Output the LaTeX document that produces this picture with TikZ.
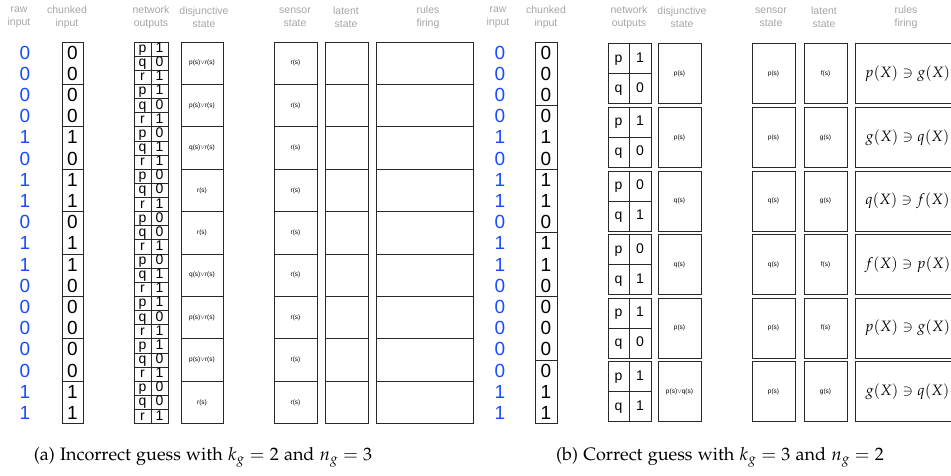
\documentclass[tikz,border=0pt]{standalone}
\usepackage{mathpazo}
\usepackage[no-math]{fontspec}
\setsansfont{Liberation Sans}
\usetikzlibrary{positioning}
\definecolor{InputBlue}{RGB}{25, 75, 255}
\definecolor{HeadGray}{RGB}{165, 165, 165}
\definecolor{BoxLine}{RGB}{40, 40, 40}
\newcommand{\palfont}{\fontencoding{OT1}\fontfamily{pplx}\selectfont}

\begin{document}
\begin{tikzpicture}[x=1pt, y=-1pt,
    cell/.style={draw=BoxLine, line width=0.8pt, inner sep=0pt},
    bit/.style={font=\sffamily\fontsize{19}{19}\selectfont, inner sep=0pt},
    rawbit/.style={bit, text=InputBlue},
    letter/.style={font=\sffamily\fontsize{14}{14}\selectfont, text height=10pt, text depth=3pt},
    tiny/.style={font=\sffamily\fontsize{6.5}{7}\selectfont},
    head/.style={font=\sffamily\fontsize{10.5}{13}\selectfont, text=HeadGray, align=center, inner sep=0pt},
    capt/.style={font=\palfont\fontsize{18}{21}\selectfont, inner sep=0pt}]
    \useasboundingbox (0,0) rectangle (951,476);
    \clip (0,0) rectangle (951,476);

    % Column titles
    \foreach \x/\txt/\p in {19/raw\\input/a, 67/chunked\\input/a, 151/network\\outputs/a,
                            204/disjunctive\\state/a, 295/sensor\\state/a, 346/latent\\state/a,
                            428/rules\\firing/a,
                            498/raw\\input/b, 546/chunked\\input/b, 629/network\\outputs/b,
                            682/disjunctive\\state/b, 771/sensor\\state/b, 824/latent\\state/b,
                            906/rules\\firing/b} {
        \node[head] (t\p\x) at (\x, 17) {\txt};
    }

    % Raw input, the same bit string in both panels
    \foreach \d [count=\i] in {0,0,0,0,1,0,1,1,0,1,1,0,0,0,0,0,1,1} {
        \pgfmathsetmacro{\yy}{42+21.2*(\i-0.5)}
        \node[rawbit] (ra\i) at (25, \yy) {\d};
        \node[rawbit] (rb\i) at (500, \yy) {\d};
    }

    % (a) chunks of two, three network outputs per chunk
    \foreach \ba/\bb/\pv/\qv/\rv/\dis [count=\k] in {
            0/0/1/0/1/{p(s)$\vee$r(s)}, 0/0/1/0/1/{p(s)$\vee$r(s)},
            1/0/0/1/1/{q(s)$\vee$r(s)}, 1/1/0/0/1/{r(s)},
            0/1/0/0/1/{r(s)},           1/0/0/1/1/{q(s)$\vee$r(s)},
            0/0/1/0/1/{p(s)$\vee$r(s)}, 0/0/1/0/1/{p(s)$\vee$r(s)},
            1/1/0/0/1/{r(s)}} {
        \pgfmathsetmacro{\yc}{42+42.4*(\k-0.5)}
        \node[cell, minimum width=21pt, minimum height=42.4pt] (ca\k) at (72.5, \yc) {};
        \node[bit] at ([yshift=10.6pt]ca\k.center) {\ba};
        \node[bit] at ([yshift=-10.6pt]ca\k.center) {\bb};
        % one row per predicate
        \foreach \n/\v [count=\j] in {p/\pv, q/\qv, r/\rv} {
            \pgfmathsetmacro{\yr}{42+42.4*(\k-1)+14.133*(\j-0.5)}
            \node[cell, letter, minimum width=17pt, minimum height=14.133pt] (na\k\n) at (142.5, \yr) {\n};
            \node[cell, letter, minimum width=17pt, minimum height=14.133pt] (va\k\n) at (159.5, \yr) {\v};
        }
        \node[cell, tiny, minimum width=42pt, minimum height=42.4pt] (da\k) at (202, \yc) {\dis};
        \node[cell, tiny, minimum width=43pt, minimum height=42.4pt] (sa\k) at (295.5, \yc) {r(s)};
        \node[cell, minimum width=43pt, minimum height=42.4pt] (la\k) at (346.5, \yc) {};
        \node[cell, minimum width=97pt, minimum height=42.4pt] (fa\k) at (424.5, \yc) {};
    }

    % (b) chunks of three, two network outputs per chunk
    \foreach \ba/\bb/\bc/\pv/\qv/\dis/\sen/\lat/\rl [count=\k] in {
            0/0/0/1/0/{p(s)}/p/f/{p(X) \ni g(X)},
            0/1/0/1/0/{p(s)}/p/g/{g(X) \ni q(X)},
            1/1/0/0/1/{q(s)}/q/g/{q(X) \ni f(X)},
            1/1/0/0/1/{q(s)}/q/f/{f(X) \ni p(X)},
            0/0/0/1/0/{p(s)}/p/f/{p(X) \ni g(X)},
            0/1/1/1/1/{p(s)$\vee$q(s)}/p/g/{g(X) \ni q(X)}} {
        \pgfmathsetmacro{\yc}{42+63.6*(\k-0.5)}
        \node[cell, minimum width=22pt, minimum height=63.6pt] (cb\k) at (546, \yc) {};
        \node[bit] at ([yshift=21.2pt]cb\k.center) {\ba};
        \node[bit] at (cb\k.center) {\bb};
        \node[bit] at ([yshift=-21.2pt]cb\k.center) {\bc};
        \foreach \n/\v [count=\j] in {p/\pv, q/\qv} {
            \pgfmathsetmacro{\yr}{42+63.6*(\k-1)+1.8+30*(\j-0.5)}
            \node[cell, letter, minimum width=21pt, minimum height=30pt] (nb\k\n) at (618.5, \yr) {\n};
            \node[cell, letter, minimum width=22pt, minimum height=30pt] (vb\k\n) at (640, \yr) {\v};
        }
        \node[cell, tiny, minimum width=43pt, minimum height=60pt] (db\k) at (679.5, \yc) {\dis};
        \node[cell, tiny, minimum width=43pt, minimum height=60pt] (sb\k) at (773.5, \yc) {\sen(s)};
        \node[cell, tiny, minimum width=43pt, minimum height=60pt] (lb\k) at (825.5, \yc) {\lat(s)};
        \node[cell, minimum width=105pt, minimum height=60pt, font=\fontsize{15}{15}\selectfont]
            (fb\k) at (907.5, \yc) {$\rl$};
    }

    % Captions
    \node[capt] (capa) at (203, 457) {(a) Incorrect guess with $k_g = 2$ and $n_g = 3$};
    \node[capt] (capb) at (720, 457) {(b) Correct guess with $k_g = 3$ and $n_g = 2$};
\end{tikzpicture}
\end{document}
